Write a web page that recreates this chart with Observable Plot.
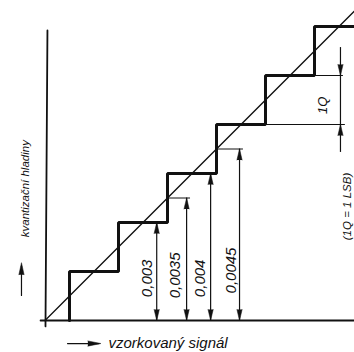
<!DOCTYPE html>
<html>
<head>
<meta charset="utf-8">
<script src="https://cdn.jsdelivr.net/npm/d3@7"></script>
<script src="https://cdn.jsdelivr.net/npm/@observablehq/plot@0.6"></script>
<style>
  html, body { margin: 0; padding: 0; background: #fff; }
  #chart { width: 354px; height: 352px; overflow: hidden; }
</style>
</head>
<body>
<div id="chart"></div>
<script>
// ---- data (in units of 1Q) ----
const levels = [0, 1, 2, 3, 4, 5, 6];            // quantization levels
const thresholds = [0.5, 1.5, 2.5, 3.5, 4.5, 5.5]; // decision thresholds
const dimLabels = ["0,003", "0,0035", "0,004", "0,0045"];
const dimValues = [2, 2.5, 3, 3.5];
const qLevels = [4, 5];                            // 1Q dimension between these
const xTitle = "vzorkovaný signál";
const yTitle = "kvantizační hladiny";
const note = "(1Q = 1 LSB)";
const qLabel = "1Q";

// ---- layout ----
const U = 49, ox = 44.5, oy = 320, W = 354, H = 352;
const dimX = [2.28, 2.89, 3.38, 3.97];
const dimLabelX = [2.09, 2.66, 3.17, 3.79];
const dimLabelY = [0.86, 0.92, 0.86, 1.02];
const xEnd = 6.4;

// staircase
const stairs = [];
thresholds.forEach((t, i) => {
  stairs.push({x: t, y: levels[i]});
  stairs.push({x: t, y: levels[i + 1]});
});
stairs.push({x: xEnd, y: levels[levels.length - 1]});

const dims = dimLabels.map((l, i) => ({label: l, v: dimValues[i], x: dimX[i], lx: dimLabelX[i], ly: dimLabelY[i]}));
const headsUp = dims.map(d => ({x: d.x, y: d.v}));
const headsDown = dims.map(d => ({x: d.x, y: 0}));
const halfDims = dims.filter(d => d.v % 1 !== 0);

const qx = 6.03;
const ink = "#111";
const font = "Liberation Sans, Arial, sans-serif";
const head = {length: 11, r: 2.6, anchor: "end", shape: "spike", fill: ink, stroke: ink, strokeWidth: 0.5};

const chart = Plot.plot({
  width: W, height: H, margin: 0,
  x: {domain: [-ox / U, (W - ox) / U], axis: null},
  y: {domain: [(oy - H) / U, oy / U], axis: null},
  style: {background: "#fff"},
  marks: [
    // axes
    Plot.line([{x: -0.09, y: 0}, {x: xEnd, y: 0}], {x: "x", y: "y", stroke: ink, strokeWidth: 1.8}),
    Plot.line([{x: 0.01, y: -0.12}, {x: 0.05, y: 5.92}], {x: "x", y: "y", stroke: ink, strokeWidth: 1.8}),
    // diagonal
    Plot.line([{x: 0, y: 0}, {x: 6.4, y: 6.4}], {x: "x", y: "y", stroke: ink, strokeWidth: 1.3, clip: true}),
    // staircase
    Plot.line(stairs, {x: "x", y: "y", stroke: ink, strokeWidth: 3, strokeLinejoin: "miter"}),
    // extension lines for half-step dimensions
    Plot.ruleY(halfDims, {y: "v", x1: "v", x2: d => d.x + 0.08, stroke: ink, strokeWidth: 1}),
    // dimension lines
    Plot.ruleX(dims, {x: "x", y1: 0, y2: "v", stroke: ink, strokeWidth: 1.2}),
    Plot.vector(headsUp, {x: "x", y: "y", rotate: 0, ...head}),
    Plot.vector(headsDown, {x: "x", y: "y", rotate: 180, ...head}),
    Plot.text(dims, {x: "lx", y: "ly", text: "label", rotate: -90, fontSize: 15, fontStyle: "italic", fontFamily: font, fill: ink}),
    // 1Q dimension
    Plot.ruleY(qLevels, {y: d => d, x1: d => d + 0.5, x2: d => qx + 0.06 + (5 - d) * 0.04, stroke: ink, strokeWidth: 1}),
    Plot.ruleX([qx], {x: d => d, y1: 3.43, y2: 5.57, stroke: ink, strokeWidth: 1.2}),
    Plot.vector([{x: qx, y: qLevels[1]}], {x: "x", y: "y", rotate: 180, ...head}),
    Plot.vector([{x: qx, y: qLevels[0]}], {x: "x", y: "y", rotate: 0, ...head}),
    Plot.text([qLabel], {x: 5.66, y: 4.39, text: d => d, rotate: -90, fontSize: 13, fontStyle: "italic", fontFamily: font, fill: ink}),
    // note
    Plot.text([note], {x: (346.5 - ox) / U, y: (oy - 206) / U, text: d => d, rotate: -90, fontSize: 11.5, fontStyle: "italic", fontFamily: font, fill: ink}),
    // x title with arrow
    Plot.line([{x: 0.46, y: -0.47}, {x: 1.1, y: -0.47}], {x: "x", y: "y", stroke: ink, strokeWidth: 1.2}),
    Plot.vector([{x: 1.14, y: -0.47}], {x: "x", y: "y", length: 13, r: 2.6, rotate: 90, anchor: "end", shape: "spike", fill: ink, stroke: ink, strokeWidth: 0.5}),
    Plot.text([xTitle], {x: 1.295, y: -0.47, text: d => d, textAnchor: "start", fontSize: 15, fontStyle: "italic", fontFamily: font, fill: ink}),
    // y title with arrow
    Plot.line([{x: -0.48, y: 0.51}, {x: -0.48, y: 1.1}], {x: "x", y: "y", stroke: ink, strokeWidth: 1.2}),
    Plot.vector([{x: -0.48, y: 1.18}], {x: "x", y: "y", length: 12, r: 2.6, rotate: 0, anchor: "end", shape: "spike", fill: ink, stroke: ink, strokeWidth: 0.5}),
    Plot.text([yTitle], {x: -0.40, y: 2.69, text: d => d, rotate: -90, fontSize: 11.5, fontStyle: "italic", fontFamily: font, fill: ink})
  ]
});
document.getElementById("chart").append(chart);
</script>
</body>
</html>
